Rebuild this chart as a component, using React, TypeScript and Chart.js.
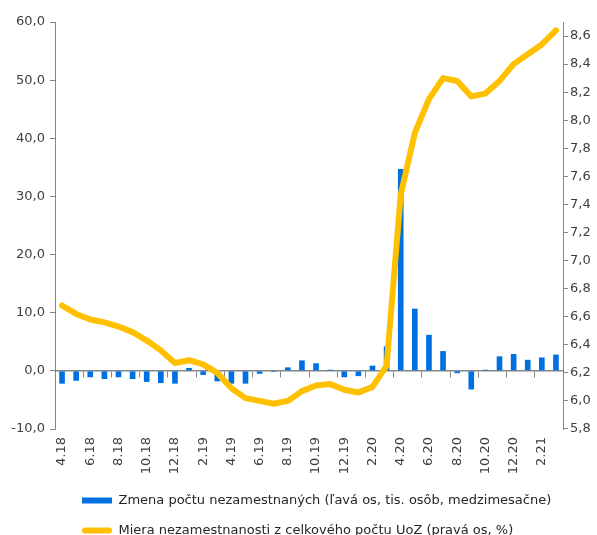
import React, { useEffect, useRef } from "react";
import { Chart, registerables } from "chart.js";

Chart.register(...registerables);

const months = [
  "4.18", "5.18", "6.18", "7.18", "8.18", "9.18", "10.18", "11.18", "12.18",
  "1.19", "2.19", "3.19", "4.19", "5.19", "6.19", "7.19", "8.19", "9.19", "10.19", "11.19", "12.19",
  "1.20", "2.20", "3.20", "4.20", "5.20", "6.20", "7.20", "8.20", "9.20", "10.20", "11.20", "12.20",
  "1.21", "2.21", "3.21",
];

const changeUnemployed = [
  -2.2, -1.7, -1.1, -1.4, -1.1, -1.4, -1.9, -2.1, -2.2,
  0.5, -0.7, -1.8, -2.2, -2.2, -0.5, -0.2, 0.6, 1.8, 1.3, 0.2, -1.1,
  -0.9, 0.9, 4.2, 34.7, 10.7, 6.2, 3.4, -0.4, -3.2, 0.2, 2.5, 2.9,
  1.9, 2.3, 2.8,
];

const unemploymentRate = [
  6.68, 6.62, 6.58, 6.56, 6.53, 6.49, 6.43, 6.36, 6.27,
  6.29, 6.26, 6.2, 6.09, 6.02, 6.0, 5.98, 6.0, 6.07, 6.11, 6.12, 6.08,
  6.06, 6.1, 6.25, 7.47, 7.91, 8.15, 8.3, 8.28, 8.17, 8.19, 8.28, 8.4,
  8.47, 8.54, 8.64,
];

const barLabel = "Zmena počtu nezamestnaných (ľavá os, tis. osôb, medzimesačne)";
const lineLabel = "Miera nezamestnanosti z celkového počtu UoZ (pravá os, %)";

const FONT = "'DejaVu Sans', Verdana, sans-serif";
const TEXT = "#404040";
const AXIS = "#868686";

export default function App() {
  const ref = useRef<HTMLCanvasElement | null>(null);

  useEffect(() => {
    if (!ref.current) return;
    const legendShift = {
      id: "legendShift",
      beforeDraw(chart: any) {
        if (chart.legend) {
          const w = chart.legend.width;
          chart.legend.left = 65;
          chart.legend.right = 65 + w;
        }
      },
    };
    const defaultLabels = Chart.defaults.plugins.legend.labels.generateLabels;
    const chart = new Chart(ref.current, {
      type: "bar",
      data: {
        labels: months,
        datasets: [
          {
            type: "bar",
            label: barLabel,
            data: changeUnemployed,
            backgroundColor: "#0070E0",
            borderWidth: 0,
            barPercentage: 0.4,
            categoryPercentage: 1,
            yAxisID: "y",
            xAxisID: "x",
            order: 1,
          },
          {
            type: "line",
            label: lineLabel,
            data: unemploymentRate,
            borderColor: "#FFC000",
            backgroundColor: "#FFC000",
            borderWidth: 6,
            pointRadius: 0,
            tension: 0,
            borderJoinStyle: "round",
            borderCapStyle: "round",
            yAxisID: "y2",
            xAxisID: "x",
            order: 0,
          },
        ],
      },
      options: {
        responsive: false,
        animation: false,
        devicePixelRatio: 1,
        layout: { padding: { top: 22, left: 0, right: 0, bottom: 0 } },
        plugins: {
          tooltip: { enabled: false },
          legend: {
            position: "bottom",
            align: "start",
            labels: {
              boxWidth: 30,
              boxHeight: 6,
              padding: 17,
              color: "#262626",
              font: { family: FONT, size: 13 },
              useBorderRadius: true,
              sort: (a: any, b: any) => a.datasetIndex - b.datasetIndex,
              generateLabels: (c: any) =>
                defaultLabels(c).map((item: any) => ({
                  ...item,
                  lineWidth: 0,
                  strokeStyle: "rgba(0,0,0,0)",
                  borderRadius: item.datasetIndex === 1 ? 3 : 0,
                })),
            },
          },
        },
        scales: {
          x: {
            type: "category",
            offset: true,
            grid: { display: false, offset: true },
            border: { display: false },
            ticks: {
              autoSkip: false,
              minRotation: 90,
              maxRotation: 90,
              padding: 0,
              color: TEXT,
              font: { family: FONT, size: 13 },
              callback: (_v: any, i: number) => (i % 2 === 0 ? months[i] : ""),
            },
            afterFit: (s: any) => {
              s.height = 48;
            },
          },
          x2: {
            type: "category",
            position: { y: 0 } as any,
            offset: true,
            grid: {
              offset: true,
              drawOnChartArea: false,
              drawTicks: true,
              tickLength: 6,
              color: (c: any) => (c.index % 2 === 0 ? AXIS : "rgba(0,0,0,0)"),
            },
            border: { display: true, color: AXIS, width: 1.5 },
            ticks: { display: false, autoSkip: false },
            afterFit: (s: any) => {
              s.height = 0;
            },
          },
          y: {
            position: "left",
            min: -10,
            max: 60,
            grid: { drawOnChartArea: false, drawTicks: true, tickLength: 5, color: AXIS },
            border: { display: true, color: AXIS },
            ticks: {
              stepSize: 10,
              padding: 5,
              color: TEXT,
              font: { family: FONT, size: 13 },
              callback: (v: any) => Number(v).toFixed(1).replace(".", ","),
            },
            afterFit: (s: any) => {
              s.width = 55;
            },
          },
          y2: {
            position: "right",
            min: 5.8,
            max: 8.7,
            grid: { drawOnChartArea: false, drawTicks: true, tickLength: 5, color: AXIS },
            border: { display: true, color: AXIS },
            ticks: {
              stepSize: 0.2,
              includeBounds: false,
              padding: 2,
              color: TEXT,
              font: { family: FONT, size: 13 },
              callback: (v: any) => Number(v).toFixed(1).replace(".", ","),
            },
            afterFit: (s: any) => {
              s.width = 34;
            },
          },
        },
      },
      plugins: [legendShift],
    } as any);
    return () => chart.destroy();
  }, []);

  return (
    <div
      style={{
        position: "fixed",
        left: 0,
        top: 0,
        width: 597,
        height: 535,
        overflow: "hidden",
        background: "#fff",
      }}
    >
      <canvas ref={ref} width={597} height={547} style={{ display: "block" }} />
    </div>
  );
}
